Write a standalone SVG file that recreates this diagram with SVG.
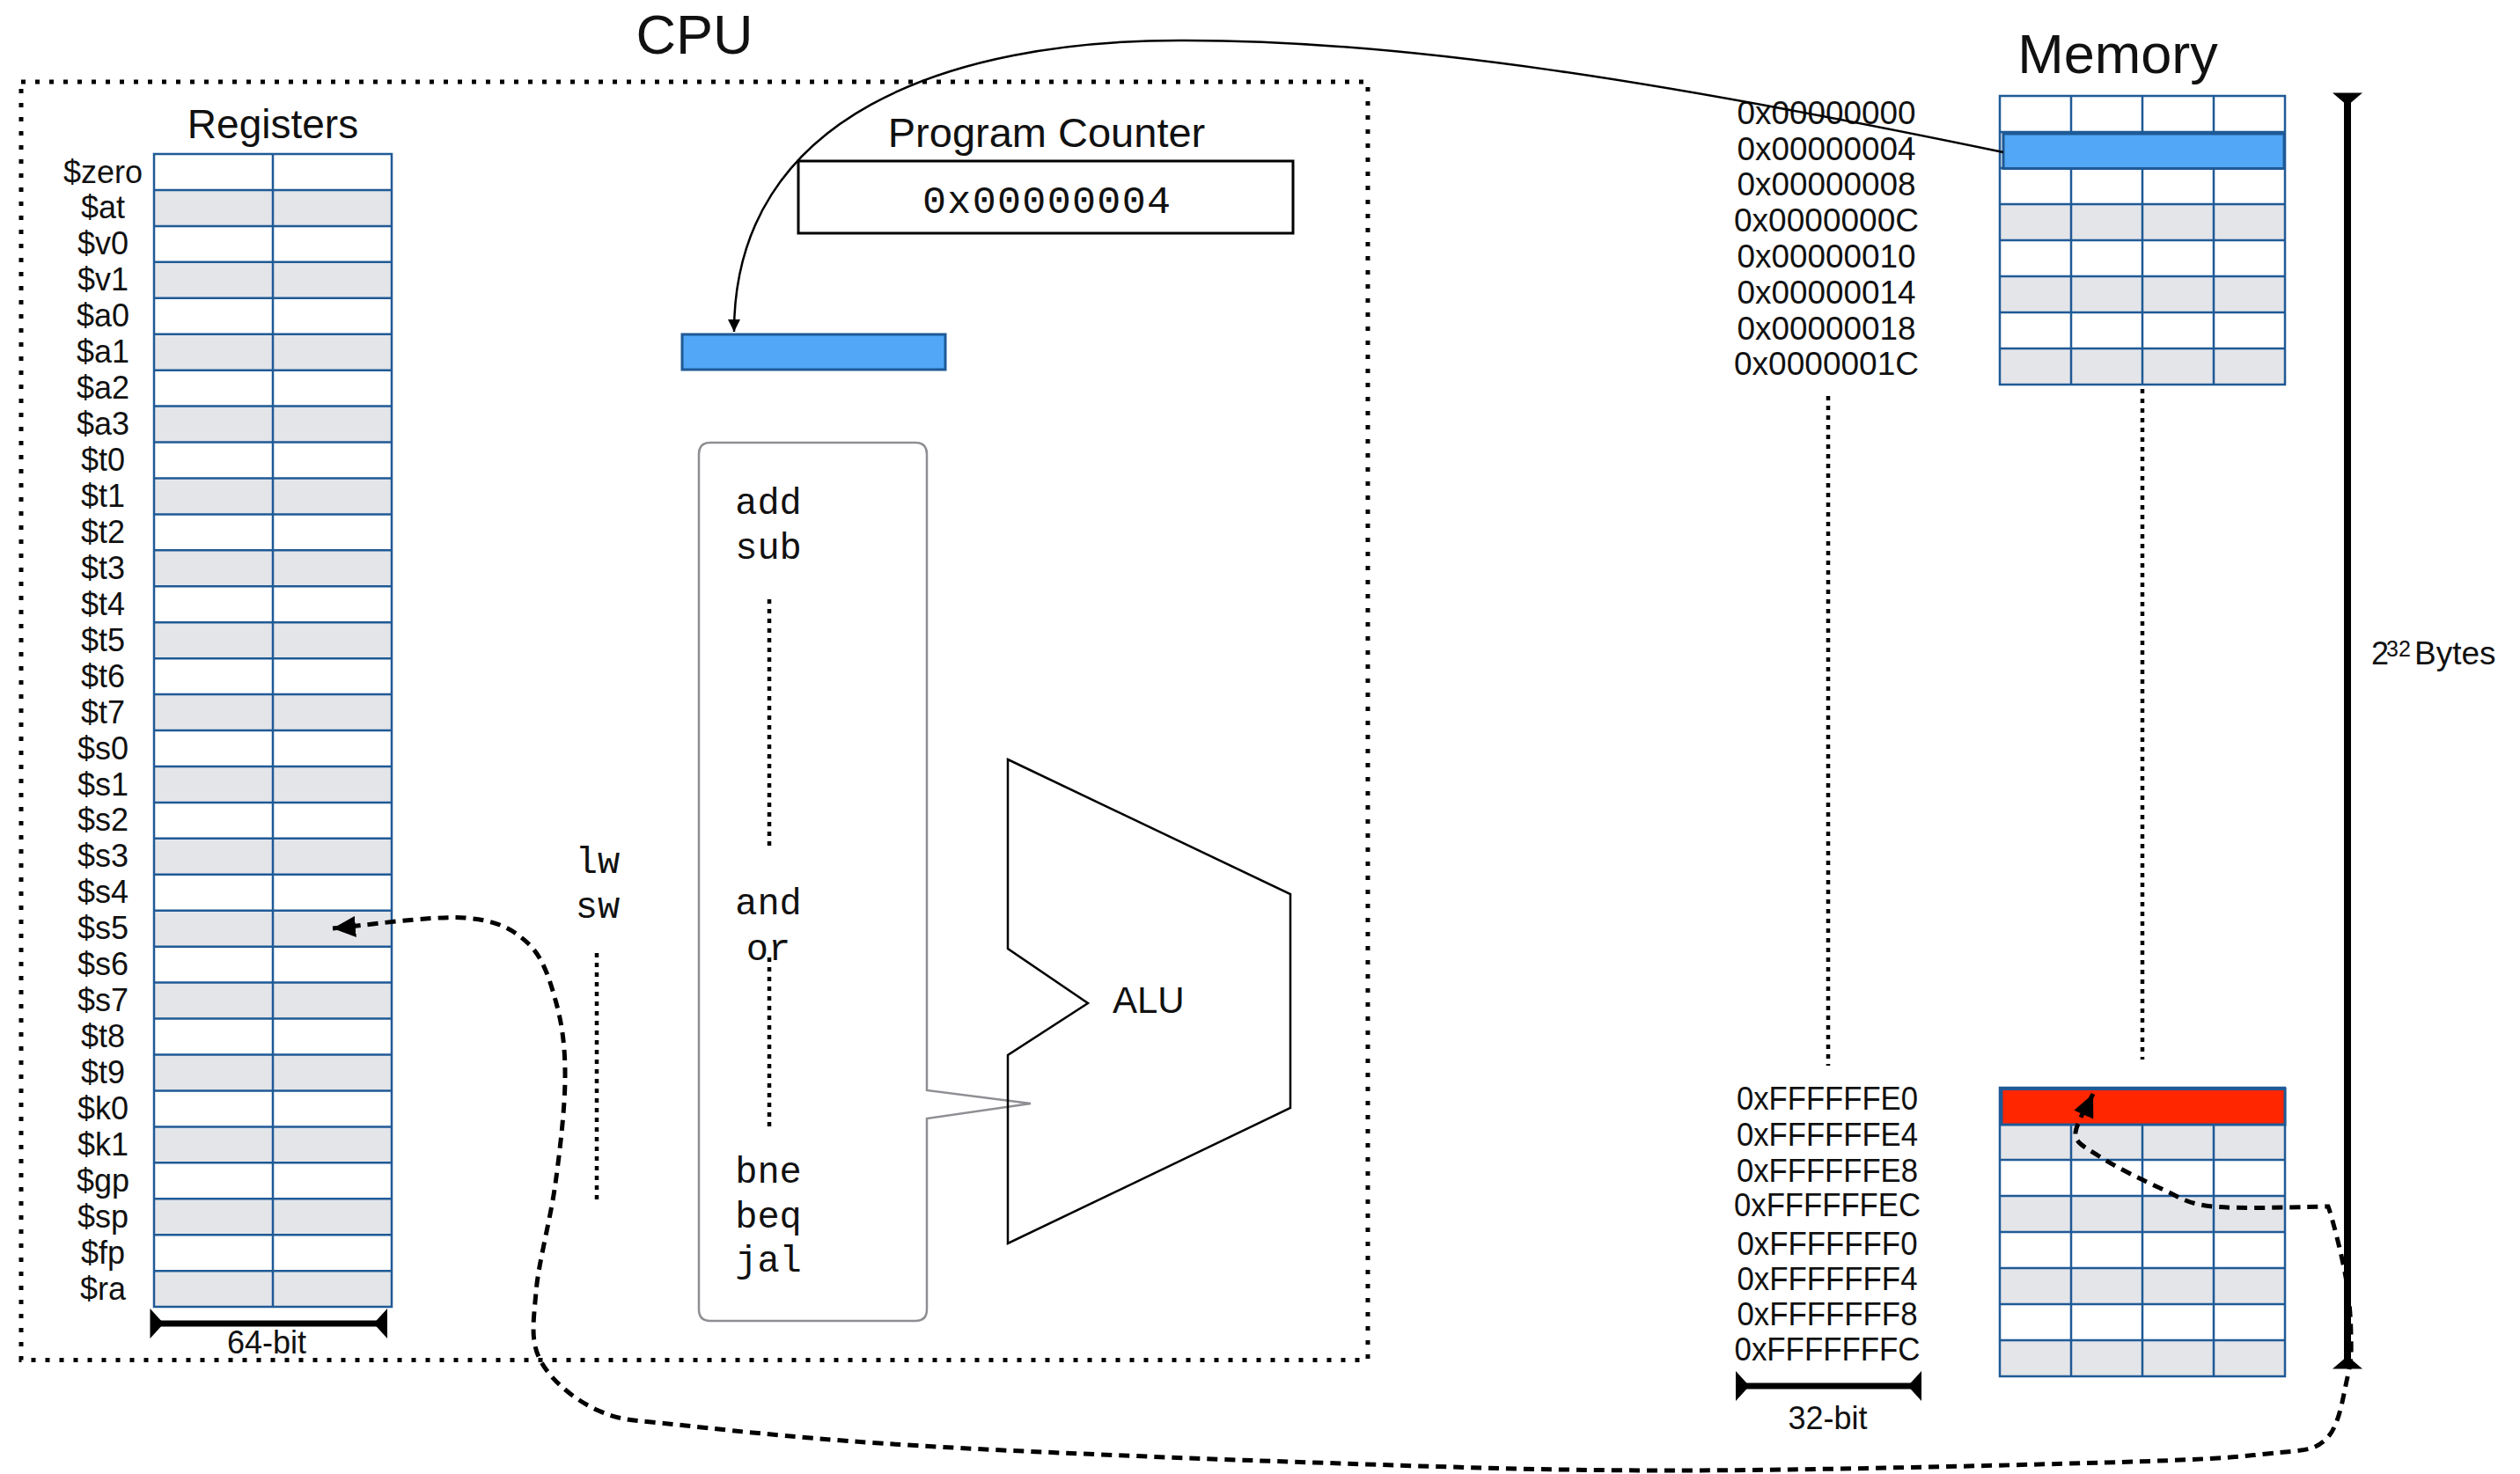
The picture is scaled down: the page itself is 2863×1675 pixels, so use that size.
<svg xmlns="http://www.w3.org/2000/svg" width="2863" height="1675" viewBox="0 0 2863 1675">
  <style>
    .sans { font-family: "Liberation Sans", Arial, Helvetica, sans-serif; fill: #111; }
    .mono { font-family: "Liberation Mono", "Courier New", monospace; fill: #111; }
    .title { font-size: 63px; text-anchor: middle; }
    .head { font-size: 46px; text-anchor: middle; }
    .reg { font-size: 36px; text-anchor: middle; }
    .addr { font-size: 37px; text-anchor: middle; }
    .op { font-size: 42px; text-anchor: middle; }
    .grid { fill: none; stroke: #1F5A96; stroke-width: 2.5; }
    .shade { fill: #E4E5E9; }
    .dotted { fill: none; stroke: #000; stroke-width: 4.5; stroke-dasharray: 5 6; }
    .frame { fill: none; stroke: #000; stroke-width: 5; stroke-dasharray: 5 11; }
    .bar { stroke: #000; stroke-width: 7; }
    .cap { fill: #000; }
  </style>
  <defs>
    <marker id="tip" viewBox="0 0 14 14" refX="14" refY="7" markerWidth="14" markerHeight="14" markerUnits="userSpaceOnUse" orient="auto">
      <path d="M0 0 L14 7 L0 14 Z" fill="#000"/>
    </marker>
    <marker id="bigtip" viewBox="0 0 26 24" refX="26" refY="12" markerWidth="26" markerHeight="24" markerUnits="userSpaceOnUse" orient="auto-start-reverse">
      <path d="M0 0 L26 12 L0 24 Z" fill="#000"/>
    </marker>
  </defs>

  <rect width="2863" height="1675" fill="#fff"/>

  <!-- CPU boundary -->
  <g id="cpu">
    <text class="sans title" x="789" y="61">CPU</text>
    <rect class="frame" x="24" y="93" width="1530" height="1452.5"/>
  </g>

  <!-- register file: 32 rows x 2 halves -->
  <g id="registers">
    <text class="sans head" x="310" y="157">Registers</text>
    <g>
      <rect class="shade" x="175" y="215.94" width="270" height="40.94"/>
      <rect class="shade" x="175" y="297.82" width="270" height="40.94"/>
      <rect class="shade" x="175" y="379.7" width="270" height="40.94"/>
      <rect class="shade" x="175" y="461.58" width="270" height="40.94"/>
      <rect class="shade" x="175" y="543.46" width="270" height="40.94"/>
      <rect class="shade" x="175" y="625.34" width="270" height="40.94"/>
      <rect class="shade" x="175" y="707.22" width="270" height="40.94"/>
      <rect class="shade" x="175" y="789.1" width="270" height="40.94"/>
      <rect class="shade" x="175" y="870.98" width="270" height="40.94"/>
      <rect class="shade" x="175" y="952.86" width="270" height="40.94"/>
      <rect class="shade" x="175" y="1034.74" width="270" height="40.94"/>
      <rect class="shade" x="175" y="1116.62" width="270" height="40.94"/>
      <rect class="shade" x="175" y="1198.5" width="270" height="40.94"/>
      <rect class="shade" x="175" y="1280.38" width="270" height="40.94"/>
      <rect class="shade" x="175" y="1362.26" width="270" height="40.94"/>
      <rect class="shade" x="175" y="1444.14" width="270" height="40.94"/>
    </g>
    <path class="grid" d="M175 175H445V1485.08H175Z M310 175V1485.08
      M175 215.94H445 M175 256.88H445 M175 297.82H445 M175 338.76H445
      M175 379.7H445 M175 420.64H445 M175 461.58H445 M175 502.52H445
      M175 543.46H445 M175 584.4H445 M175 625.34H445 M175 666.28H445
      M175 707.22H445 M175 748.16H445 M175 789.1H445 M175 830.04H445
      M175 870.98H445 M175 911.92H445 M175 952.86H445 M175 993.8H445
      M175 1034.74H445 M175 1075.68H445 M175 1116.62H445 M175 1157.56H445
      M175 1198.5H445 M175 1239.44H445 M175 1280.38H445 M175 1321.32H445
      M175 1362.26H445 M175 1403.2H445 M175 1444.14H445"/>
    <g class="sans reg">
      <text x="117" y="207.5">$zero</text>
      <text x="117" y="248.4">$at</text>
      <text x="117" y="289.4">$v0</text>
      <text x="117" y="330.3">$v1</text>
      <text x="117" y="371.3">$a0</text>
      <text x="117" y="412.2">$a1</text>
      <text x="117" y="453.1">$a2</text>
      <text x="117" y="494.1">$a3</text>
      <text x="117" y="535">$t0</text>
      <text x="117" y="576">$t1</text>
      <text x="117" y="616.9">$t2</text>
      <text x="117" y="657.8">$t3</text>
      <text x="117" y="698.8">$t4</text>
      <text x="117" y="739.7">$t5</text>
      <text x="117" y="780.7">$t6</text>
      <text x="117" y="821.6">$t7</text>
      <text x="117" y="862.5">$s0</text>
      <text x="117" y="903.5">$s1</text>
      <text x="117" y="944.4">$s2</text>
      <text x="117" y="985.4">$s3</text>
      <text x="117" y="1026.3">$s4</text>
      <text x="117" y="1067.2">$s5</text>
      <text x="117" y="1108.2">$s6</text>
      <text x="117" y="1149.1">$s7</text>
      <text x="117" y="1190.1">$t8</text>
      <text x="117" y="1231">$t9</text>
      <text x="117" y="1271.9">$k0</text>
      <text x="117" y="1312.9">$k1</text>
      <text x="117" y="1353.8">$gp</text>
      <text x="117" y="1394.8">$sp</text>
      <text x="117" y="1435.7">$fp</text>
      <text x="117" y="1476.6">$ra</text>
    </g>
  </g>

  <!-- register width bar -->
  <g id="width-64">
    <line class="bar" x1="178" y1="1504" x2="432" y2="1504"/>
    <polygon class="cap" points="170.5,1487 170.5,1521 186,1504"/>
    <polygon class="cap" points="440,1487 440,1521 424.5,1504"/>
    <text class="sans reg" x="303" y="1538">64-bit</text>
  </g>

  <!-- program counter -->
  <g id="program-counter">
    <text class="sans head" x="1189" y="167" style="font-size:47px">Program Counter</text>
    <rect x="907" y="183" width="562" height="82" fill="#fff" stroke="#000" stroke-width="3"/>
    <text class="mono" x="1189" y="242" text-anchor="middle" font-size="45" textLength="282" lengthAdjust="spacing">0x00000004</text>
  </g>

  <!-- fetched instruction -->
  <g id="instruction-register">
    <rect x="775" y="380" width="299" height="40" fill="#53A7F7" stroke="#1F5A96" stroke-width="3"/>
  </g>

  <!-- instruction set callout -->
  <g id="instruction-set">
    <path d="M807 503H1040Q1053 503 1053 516V1239L1171 1254L1053 1271V1488Q1053 1501 1040 1501H807Q794 1501 794 1488V516Q794 503 807 503Z" fill="#fff" stroke="#8E8E93" stroke-width="2.5"/>
    <g class="mono op">
      <text x="873" y="584">add</text>
      <text x="873" y="635">sub</text>
      <text x="873" y="1039">and</text>
      <text x="873" y="1091">or</text>
      <text x="873" y="1344">bne</text>
      <text x="873" y="1395">beq</text>
      <text x="873" y="1445">jal</text>
    </g>
    <line class="dotted" x1="874" y1="681" x2="874" y2="962"/>
    <line class="dotted" x1="874" y1="1088" x2="874" y2="1283"/>
  </g>

  <g id="load-store">
    <g class="mono op">
      <text x="679" y="992">lw</text>
      <text x="679" y="1043">sw</text>
    </g>
    <line class="dotted" x1="678" y1="1083" x2="678" y2="1366"/>
  </g>

  <!-- ALU -->
  <g id="alu">
    <polygon points="1145,863 1466,1016 1466,1259 1145,1413 1145,1199 1236,1140 1145,1078" fill="none" stroke="#000" stroke-width="2.5"/>
    <text class="sans" x="1264" y="1151" font-size="42">ALU</text>
  </g>

  <!-- memory -->
  <g id="memory">
    <text class="sans title" x="2406" y="83">Memory</text>

    <g id="memory-low">
      <rect class="shade" x="2272" y="150" width="324" height="41"/>
      <rect class="shade" x="2272" y="232" width="324" height="41"/>
      <rect class="shade" x="2272" y="314" width="324" height="41"/>
      <rect class="shade" x="2272" y="396" width="324" height="41"/>
      <path class="grid" d="M2272 109H2596V437H2272Z M2353 109V437 M2434 109V437 M2515 109V437
        M2272 150H2596 M2272 191H2596 M2272 232H2596 M2272 273H2596 M2272 314H2596 M2272 355H2596 M2272 396H2596"/>
      <rect x="2276" y="152" width="319" height="39.5" fill="#53A7F7" stroke="#1F5A96" stroke-width="3"/>
      <g class="sans addr">
        <text x="2075" y="141.3" textLength="203" lengthAdjust="spacingAndGlyphs">0x00000000</text>
        <text x="2075" y="182.4" textLength="203" lengthAdjust="spacingAndGlyphs">0x00000004</text>
        <text x="2075" y="222.4" textLength="203" lengthAdjust="spacingAndGlyphs">0x00000008</text>
        <text x="2075" y="262.9" textLength="210" lengthAdjust="spacingAndGlyphs">0x0000000C</text>
        <text x="2075" y="304" textLength="203" lengthAdjust="spacingAndGlyphs">0x00000010</text>
        <text x="2075" y="345.2" textLength="203" lengthAdjust="spacingAndGlyphs">0x00000014</text>
        <text x="2075" y="385.7" textLength="203" lengthAdjust="spacingAndGlyphs">0x00000018</text>
        <text x="2075" y="425.7" textLength="210" lengthAdjust="spacingAndGlyphs">0x0000001C</text>
      </g>
    </g>

    <line class="dotted" x1="2077" y1="450" x2="2077" y2="1211"/>
    <line class="dotted" x1="2434" y1="442" x2="2434" y2="1204"/>

    <g id="memory-high">
      <rect class="shade" x="2272" y="1277" width="324" height="41"/>
      <rect class="shade" x="2272" y="1359" width="324" height="41"/>
      <rect class="shade" x="2272" y="1441" width="324" height="41"/>
      <rect class="shade" x="2272" y="1523" width="324" height="41"/>
      <path class="grid" d="M2272 1236H2596V1564H2272Z M2353 1236V1564 M2434 1236V1564 M2515 1236V1564
        M2272 1277H2596 M2272 1318H2596 M2272 1359H2596 M2272 1400H2596 M2272 1441H2596 M2272 1482H2596 M2272 1523H2596"/>
      <rect x="2274" y="1237.5" width="322" height="40.5" fill="#FF2600" stroke="#1F5A96" stroke-width="3"/>
      <g class="sans addr">
        <text x="2076" y="1260.5" textLength="206" lengthAdjust="spacingAndGlyphs">0xFFFFFFE0</text>
        <text x="2076" y="1302.3" textLength="206" lengthAdjust="spacingAndGlyphs">0xFFFFFFE4</text>
        <text x="2076" y="1342.5" textLength="206" lengthAdjust="spacingAndGlyphs">0xFFFFFFE8</text>
        <text x="2076" y="1382" textLength="212" lengthAdjust="spacingAndGlyphs">0xFFFFFFEC</text>
        <text x="2076" y="1425.5" textLength="205" lengthAdjust="spacingAndGlyphs">0xFFFFFFF0</text>
        <text x="2076" y="1465.7" textLength="205" lengthAdjust="spacingAndGlyphs">0xFFFFFFF4</text>
        <text x="2076" y="1505.9" textLength="205" lengthAdjust="spacingAndGlyphs">0xFFFFFFF8</text>
        <text x="2076" y="1546" textLength="211" lengthAdjust="spacingAndGlyphs">0xFFFFFFFC</text>
      </g>
    </g>
  </g>

  <!-- word width bar -->
  <g id="width-32">
    <line class="bar" x1="1980" y1="1575" x2="2175" y2="1575"/>
    <polygon class="cap" points="1972,1558 1972,1592 1987.5,1575"/>
    <polygon class="cap" points="2183,1558 2183,1592 2167.5,1575"/>
    <text class="sans reg" x="2076.5" y="1624">32-bit</text>
  </g>

  <!-- address space extent -->
  <g id="address-space">
    <line x1="2667" y1="112" x2="2667" y2="1548" stroke="#000" stroke-width="8"/>
    <polygon class="cap" points="2650,105.5 2684,105.5 2667,120"/>
    <polygon class="cap" points="2650,1555.5 2684,1555.5 2667,1541"/>
    <text class="sans" x="2694" y="755" font-size="36">2</text>
    <text class="sans" x="2711" y="746" font-size="25">32</text>
    <text class="sans" x="2743" y="755" font-size="37">Bytes</text>
  </g>

  <!-- connectors -->
  <g id="connectors">
    <path id="fetch" d="M2276 173C1900 95 1600 45 1340 46C1080 46 834 130 834 377" fill="none" stroke="#000" stroke-width="2.5" marker-end="url(#tip)"/>
    <path id="load-store-path" d="M378 1055
      C403 1053 491 1040.2 528 1043
      C565 1045.8 582.7 1055.8 600 1072
      C617.3 1088.2 625 1114.5 632 1140
      C639 1165.5 642.2 1190.8 642 1225
      C641.8 1259.2 636.5 1304.5 631 1345
      C625.5 1385.5 611.8 1434.5 609 1468
      C606.2 1501.5 602.2 1523.5 614 1546
      C625.8 1568.5 652.5 1590.7 680 1603
      C707.5 1615.3 718 1613.3 779 1620
      C840 1626.7 927 1636 1046 1643
      C1165 1650 1350.7 1657.3 1493 1662
      C1635.3 1666.7 1750.3 1671 1900 1671
      C2049.7 1671 2278.3 1665.2 2391 1662
      C2503.7 1658.8 2534 1656.5 2576 1652
      C2618 1647.5 2627.8 1649.5 2643 1635
      C2658.2 1620.5 2662.3 1584.5 2667 1565
      C2671.7 1545.5 2671.3 1537 2671 1518
      C2670.7 1499 2669.3 1475.5 2665 1451
      C2660.7 1426.5 2649 1381 2645 1371
      C2625 1371 2545.5 1374.3 2514 1371
      C2482.5 1367.7 2477.5 1360.5 2456 1351
      C2434.5 1341.5 2401.3 1324.7 2385 1314
      C2368.7 1303.3 2356.8 1298.8 2358 1287
      C2359.2 1275.2 2374.7 1250.3 2378 1243"
      fill="none" stroke="#000" stroke-width="5" stroke-dasharray="12 8" marker-start="url(#bigtip)" marker-end="url(#bigtip)"/>
  </g>
</svg>
